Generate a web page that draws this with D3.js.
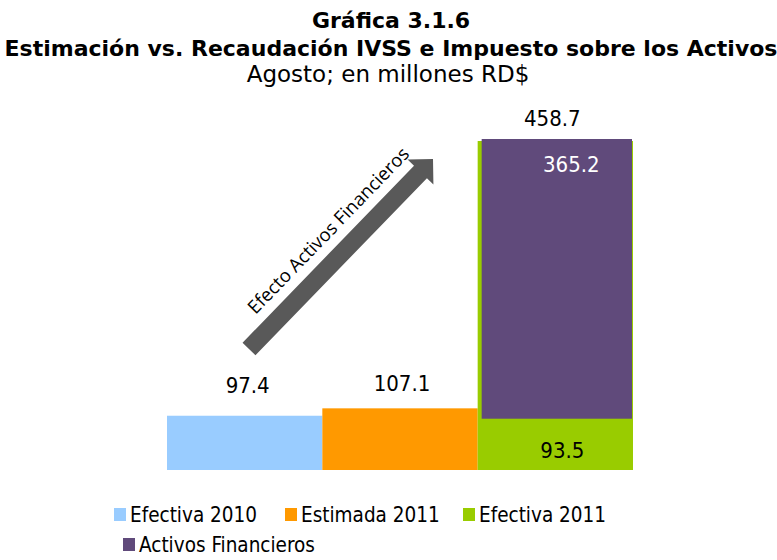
<!DOCTYPE html>
<html><head><meta charset="utf-8">
<script src="https://cdn.jsdelivr.net/npm/d3@7"></script>
<style>
body{margin:0;background:#fff;}
text{font-family:"DejaVu Sans Condensed","DejaVu Sans",sans-serif;font-stretch:condensed;}
</style></head>
<body><svg id="c" width="777" height="560"></svg>
<script>
const categories = ["Efectiva 2010", "Estimada 2011", "Efectiva 2011"];
const baseValues = [97.4, 107.1, 93.5];
const activosValues = [0, 0, 365.2];
const totalLabel = 458.7;
const legendLabels = ["Efectiva 2010", "Estimada 2011", "Efectiva 2011", "Activos Financieros"];
const colors = ["#99CCFF", "#FF9900", "#99CC00", "#604A7B"];
const titleLines = ["Gráfica 3.1.6", "Estimación vs. Recaudación IVSS e Impuesto sobre los Activos", "Agosto; en millones RD$"];
const arrowLabel = "Efecto Activos Financieros";

const svg = d3.select("#c");
const x = d3.scaleBand().domain(categories).range([167, 633]).padding(0);
const y = d3.scaleLinear().domain([26.3, 458.7]).range([470, 140]);

// titles
const tfont = "'DejaVu Sans', sans-serif";
svg.append("text").attr("x", 391).attr("y", 28).attr("text-anchor", "middle")
  .attr("font-size", 22).attr("font-weight", "bold").style("font-family", tfont).style("font-stretch", "normal").text(titleLines[0]);
svg.append("text").attr("x", 391).attr("y", 56).attr("text-anchor", "middle")
  .attr("font-size", 22).attr("font-weight", "bold").style("font-family", tfont).style("font-stretch", "normal").text(titleLines[1]);
svg.append("text").attr("x", 388).attr("y", 82).attr("text-anchor", "middle")
  .attr("font-size", 23).style("font-family", tfont).style("font-stretch", "normal").text(titleLines[2]);

// base bars
svg.selectAll("rect.base").data(categories).join("rect")
  .attr("x", d => x(d)).attr("width", x.bandwidth())
  .attr("y", (d, i) => i === 2 ? y(baseValues[i] + activosValues[i]) + 1 : y(baseValues[i]))
  .attr("height", (d, i) => i === 2 ? y.range()[0] - y(baseValues[i] + activosValues[i]) - 1 : y.range()[0] - y(baseValues[i]))
  .attr("fill", (d, i) => colors[i]);

// activos stacked
svg.selectAll("rect.act").data(categories.filter((d, i) => activosValues[i] > 0)).join("rect")
  .attr("x", d => x(d) + 4).attr("width", x.bandwidth() - 5)
  .attr("y", d => { const i = categories.indexOf(d); return y(baseValues[i] + activosValues[i]) - 1; })
  .attr("height", d => { const i = categories.indexOf(d); return y(baseValues[i]) - y(baseValues[i] + activosValues[i]) + 1; })
  .attr("fill", colors[3]);

// labels
const lab = (tx, ty, t, col) => svg.append("text").attr("x", tx).attr("y", ty).attr("text-anchor", "middle")
  .attr("font-size", 22).attr("fill", col || "#000").text(t);
lab(x(categories[0]) + x.bandwidth() / 2 + 3, 393, baseValues[0].toFixed(1));
lab(x(categories[1]) + x.bandwidth() / 2 + 2, 391, baseValues[1].toFixed(1));
lab(x(categories[2]) + x.bandwidth() / 2 + 7, 458, baseValues[2].toFixed(1));
lab(x(categories[2]) + x.bandwidth() / 2 + 16, 172, activosValues[2].toFixed(1), "#fff");
lab(x(categories[2]) + x.bandwidth() / 2 - 3, 126, totalLabel.toFixed(1));

// arrow
const tail = [249, 349], tip = [433, 159];
const len = Math.hypot(tip[0] - tail[0], tip[1] - tail[1]);
const ang = Math.atan2(tip[1] - tail[1], tip[0] - tail[0]) * 180 / Math.PI;
const hw = 9, headLen = 18, headHw = 18;
const g = svg.append("g").attr("transform", `translate(${tail[0]},${tail[1]}) rotate(${ang})`);
g.append("path").attr("fill", "#595959")
  .attr("d", d3.line()([[0, -hw], [len - headLen, -hw], [len - headLen, -headHw], [len, 0], [len - headLen, headHw], [len - headLen, hw], [0, hw]]) + "Z");
svg.append("text").attr("transform", `translate(333,235) rotate(${ang})`)
  .attr("text-anchor", "middle").attr("font-size", 18.5)
  .style("font-family", "'Open Sans', sans-serif").style("font-stretch", "normal")
  .text(arrowLabel);

// legend
const legPos = [[114, 522], [285, 522], [463, 522], [123, 552]];
legendLabels.forEach((t, i) => {
  const [lx, ly] = legPos[i];
  svg.append("rect").attr("x", lx).attr("y", ly - 14).attr("width", 12).attr("height", 13).attr("fill", colors[i]);
  svg.append("text").attr("x", lx + 16).attr("y", ly).attr("font-size", 20.5).text(t);
});
</script></body></html>
